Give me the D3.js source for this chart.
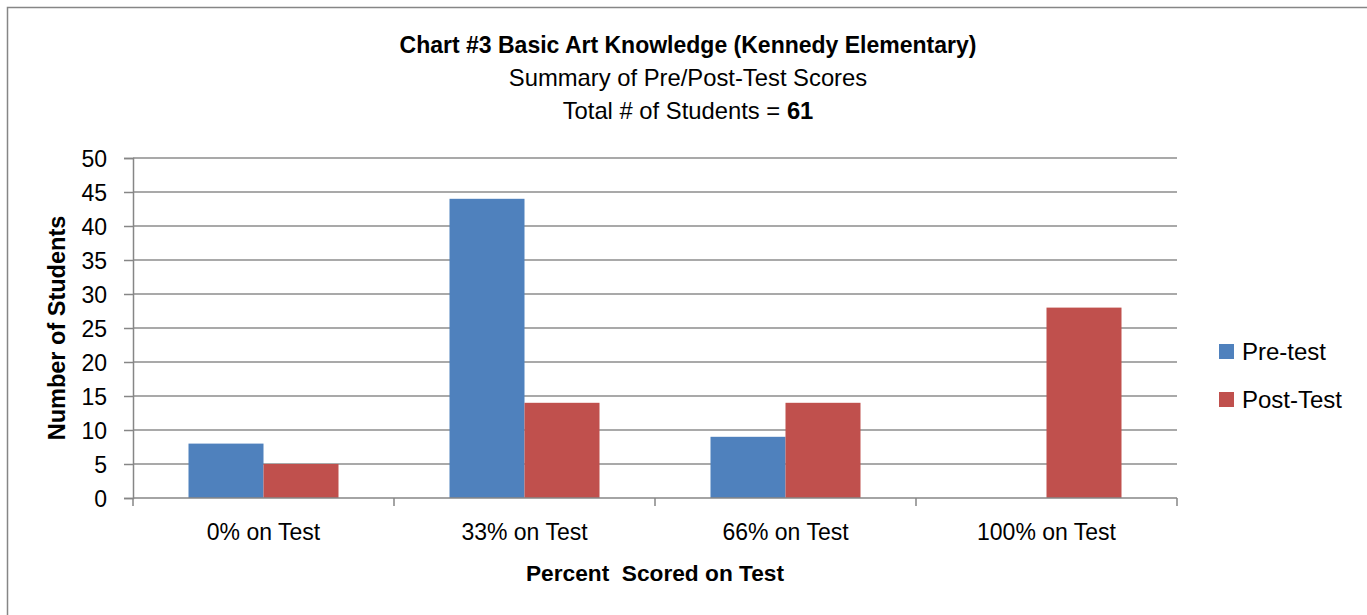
<!DOCTYPE html>
<html>
  <head>
    <meta charset="utf-8">
    <script src="https://d3js.org/d3.v7.min.js"></script>
    <style>
      body { margin: 0; background: #fff; font-family: "Liberation Sans", Arial, sans-serif; }
      .grid line { stroke: #8c8c8c; stroke-width: 1.5; }
      .axis path, .axis line { stroke: #868686; stroke-width: 1.5; }
      .axis text { fill: #000; font-size: 23px; }
    </style>
  </head>
  <body>
    <svg id="chart" width="1367" height="615"></svg>
    <script>
      const categories = ['0% on Test', '33% on Test', '66% on Test', '100% on Test'];
      const seriesNames = ['Pre-test', 'Post-Test'];
      const preTest = [8, 44, 9, 0];
      const postTest = [5, 14, 14, 28];
      const yTicks = [0, 5, 10, 15, 20, 25, 30, 35, 40, 45, 50];
      const colors = ['#4f81bd', '#c0504d'];

      const svg = d3.select('#chart');
      const margin = { left: 133, right: 190, top: 158, bottom: 117 };
      const width = +svg.attr('width');
      const height = +svg.attr('height');
      const innerWidth = width - margin.left - margin.right;
      const innerHeight = height - margin.top - margin.bottom;

      // outer chart frame (only left and top edges are visible)
      svg.append('path')
        .attr('d', `M7.5,${height} V7.5 H${width}`)
        .attr('fill', 'none')
        .attr('stroke', '#868686')
        .attr('stroke-width', 1.5);

      const g = svg.append('g')
        .attr('transform', `translate(${margin.left},${margin.top})`);

      const x0 = d3.scaleBand().domain(categories).range([0, innerWidth]);
      const x1 = d3.scaleBand().domain(seriesNames)
        .range([0, x0.bandwidth()]).paddingInner(0).paddingOuter(0.74);
      const y = d3.scaleLinear().domain([0, 50]).range([innerHeight, 0]);

      // gridlines
      g.append('g').attr('class', 'grid')
        .selectAll('line').data(yTicks.filter(d => d > 0))
        .enter().append('line')
          .attr('x1', 0).attr('x2', innerWidth)
          .attr('y1', d => y(d)).attr('y2', d => y(d));

      const rows = categories.map((c, i) => ({ cat: c, values: [preTest[i], postTest[i]] }));

      g.append('g').selectAll('g').data(rows)
        .enter().append('g')
          .attr('transform', d => `translate(${x0(d.cat)},0)`)
        .selectAll('rect').data(d => d.values.map((v, j) => ({ key: seriesNames[j], value: v, j })))
        .enter().append('rect')
          .attr('x', d => x1(d.key))
          .attr('width', x1.bandwidth())
          .attr('y', d => y(d.value))
          .attr('height', d => innerHeight - y(d.value))
          .attr('fill', d => colors[d.j]);

      const yAxis = d3.axisLeft(y).tickValues(yTicks).tickSize(9).tickPadding(17);
      g.append('g').attr('class', 'axis').call(yAxis)
        .call(s => s.selectAll('text').attr('dy', '0.36em'));

      // category axis with ticks at band boundaries
      const xAxisG = g.append('g').attr('class', 'axis')
        .attr('transform', `translate(0,${innerHeight})`);
      xAxisG.append('line')
        .attr('x1', 0).attr('x2', innerWidth);
      xAxisG.selectAll('.bt').data(d3.range(categories.length + 1))
        .enter().append('line').attr('class', 'bt')
          .attr('x1', i => i * x0.step()).attr('x2', i => i * x0.step())
          .attr('y1', 0).attr('y2', 8);
      xAxisG.selectAll('text').data(categories)
        .enter().append('text')
          .attr('x', d => x0(d) + x0.bandwidth() / 2)
          .attr('y', 42)
          .attr('text-anchor', 'middle')
          .text(d => d);

      // titles
      const cx = 688;
      svg.append('text').attr('x', cx).attr('y', 53).attr('text-anchor', 'middle')
        .style('font-weight', 'bold').style('font-size', '23px')
        .text('Chart #3 Basic Art Knowledge (Kennedy Elementary)');
      svg.append('text').attr('x', cx).attr('y', 86).attr('text-anchor', 'middle')
        .style('font-size', '23.8px')
        .text('Summary of Pre/Post-Test Scores');
      const t3 = svg.append('text').attr('x', cx).attr('y', 119).attr('text-anchor', 'middle')
        .style('font-size', '23.8px');
      t3.append('tspan').text('Total # of Students = ');
      t3.append('tspan').style('font-weight', 'bold').text('61');

      svg.append('text')
        .attr('transform', `translate(65,${margin.top + innerHeight / 2}) rotate(-90)`)
        .attr('text-anchor', 'middle')
        .style('font-weight', 'bold').style('font-size', '23.5px')
        .text('Number of Students');

      svg.append('text')
        .attr('x', margin.left + innerWidth / 2).attr('y', 581)
        .attr('text-anchor', 'middle')
        .style('font-weight', 'bold').style('font-size', '22.7px')
        .style('white-space', 'pre')
        .text('Percent  Scored on Test');

      // legend
      const legend = svg.append('g').attr('transform', 'translate(1219,344)');
      const li = legend.selectAll('g').data(seriesNames)
        .enter().append('g')
          .attr('transform', (d, i) => `translate(0,${i * 48})`);
      li.append('rect').attr('width', 15).attr('height', 15)
        .attr('fill', (d, i) => colors[i]);
      li.append('text').attr('x', 23).attr('y', 16)
        .style('font-size', '24px')
        .text(d => d);
    </script>
  </body>
</html>
